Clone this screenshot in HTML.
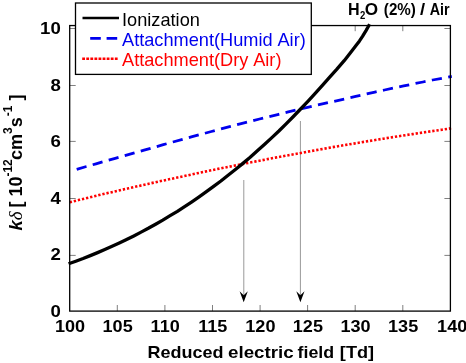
<!DOCTYPE html>
<html><head><meta charset="utf-8"><title>plot</title>
<style>
html,body{margin:0;padding:0;background:#fff;}
svg{display:block;}
text{font-family:"Liberation Sans",Arial,sans-serif;}
.b{font-weight:bold;font-size:17.4px;fill:#000;}
.lg{font-size:18.2px;word-spacing:0.8px;}
</style></head><body>
<svg width="466" height="363" viewBox="0 0 466 363">
<rect width="466" height="363" fill="#fff"/>
<g stroke="#606060" stroke-width="0.8" fill="none"><line x1="117.3" y1="311.1" x2="117.3" y2="305"/><line x1="117.3" y1="25.7" x2="117.3" y2="31.2"/><line x1="164.9" y1="311.1" x2="164.9" y2="305"/><line x1="164.9" y1="25.7" x2="164.9" y2="31.2"/><line x1="212.5" y1="311.1" x2="212.5" y2="305"/><line x1="212.5" y1="25.7" x2="212.5" y2="31.2"/><line x1="260.1" y1="311.1" x2="260.1" y2="305"/><line x1="260.1" y1="25.7" x2="260.1" y2="31.2"/><line x1="307.6" y1="311.1" x2="307.6" y2="305"/><line x1="307.6" y1="25.7" x2="307.6" y2="31.2"/><line x1="355.2" y1="311.1" x2="355.2" y2="305"/><line x1="355.2" y1="25.7" x2="355.2" y2="31.2"/><line x1="402.8" y1="311.1" x2="402.8" y2="305"/><line x1="402.8" y1="25.7" x2="402.8" y2="31.2"/><line x1="69.7" y1="255.4" x2="75.7" y2="255.4"/><line x1="450.4" y1="255.4" x2="444.4" y2="255.4"/><line x1="69.7" y1="198.5" x2="75.7" y2="198.5"/><line x1="450.4" y1="198.5" x2="444.4" y2="198.5"/><line x1="69.7" y1="141.4" x2="75.7" y2="141.4"/><line x1="450.4" y1="141.4" x2="444.4" y2="141.4"/><line x1="69.7" y1="85.5" x2="75.7" y2="85.5"/><line x1="450.4" y1="85.5" x2="444.4" y2="85.5"/><line x1="69.7" y1="28.5" x2="75.7" y2="28.5"/><line x1="450.4" y1="28.5" x2="444.4" y2="28.5"/></g>
<g stroke="#999" stroke-width="1"><line x1="243.8" y1="180" x2="243.8" y2="296"/><line x1="300.4" y1="121" x2="300.4" y2="296"/></g>
<g fill="#000"><path d="M243.7 302.3 L239.6 291.3 L243.7 295.3 L247.8 291.3 Z"/><path d="M300.4 302.3 L296.3 291.3 L300.4 295.3 L304.5 291.3 Z"/></g>
<polyline points="69.7,202.2 79.5,199.8 89.3,197.5 99.1,195.1 108.9,192.8 118.7,190.6 128.5,188.3 138.3,186.1 148.1,183.9 157.9,181.7 167.7,179.6 177.5,177.5 187.3,175.4 197.1,173.3 206.9,171.2 216.7,169.2 226.5,167.2 236.3,165.3 246.1,163.3 255.9,161.4 265.7,159.5 275.5,157.6 285.3,155.8 295.1,154.0 304.9,152.2 314.7,150.4 324.5,148.6 334.2,146.9 344.0,145.2 353.8,143.6 363.6,141.9 373.4,140.3 383.2,138.7 393.0,137.1 402.8,135.6 412.6,134.1 422.4,132.6 432.2,131.1 442.0,129.7 451.8,128.2" fill="none" stroke="#ff0000" stroke-width="2.6" stroke-dasharray="2.3 1.9"/>
<polyline points="76.7,169.3 86.4,166.5 96.0,163.8 105.6,161.0 115.2,158.3 124.8,155.6 134.4,152.9 144.1,150.1 153.7,147.4 163.3,144.7 172.9,142.0 182.5,139.4 192.2,136.7 201.8,134.1 211.4,131.5 221.0,128.9 230.6,126.3 240.2,123.9 249.9,121.5 259.5,119.0 269.1,116.6 278.7,114.3 288.3,111.9 297.9,109.6 307.6,107.4 317.2,105.1 326.8,102.9 336.4,100.8 346.0,98.6 355.7,96.4 365.3,94.3 374.9,92.1 384.5,90.0 394.1,87.9 403.7,85.9 413.4,83.9 423.0,82.0 432.6,80.0 442.2,78.2 451.8,76.4" fill="none" stroke="#0000ee" stroke-width="2.8" stroke-dasharray="10.2 6.45"/>
<polyline points="68.6,263.8 75.8,261.2 83.1,258.5 90.3,255.6 97.6,252.6 104.8,249.5 112.1,246.3 119.3,243.0 126.6,239.5 133.8,235.9 141.1,232.1 148.3,228.3 155.6,224.2 162.8,220.1 170.1,215.7 177.4,211.3 184.6,206.6 191.9,201.8 199.1,196.9 206.4,191.7 213.6,186.4 220.9,181.0 228.1,175.3 235.4,169.5 242.6,163.6 249.9,157.5 257.1,151.1 264.4,144.6 271.6,137.9 278.9,131.0 286.1,123.8 293.4,116.5 300.6,109.0 307.9,101.3 315.2,93.4 322.4,85.3 329.7,77.2 336.9,69.2 344.2,60.7 351.4,51.5 356.0,45.5 359.5,40.9 362.5,36.4 366.0,30.6 369.6,24.2" fill="none" stroke="#000" stroke-width="3.3" stroke-linejoin="round"/>
<rect x="69.7" y="25.55" width="380.7" height="285.55" fill="none" stroke="#000" stroke-width="1.3"/>
<rect x="75.5" y="3" width="235.8" height="71.4" fill="#fff" stroke="#000" stroke-width="1.3"/>
<line x1="82.5" y1="18" x2="119" y2="18" stroke="#000" stroke-width="2.6"/>
<line x1="90.2" y1="38.4" x2="119" y2="38.4" stroke="#0000ee" stroke-width="2.6" stroke-dasharray="10.6 5.8"/>
<line x1="82.2" y1="58.8" x2="118.8" y2="58.8" stroke="#ff0000" stroke-width="2.6" stroke-dasharray="2.8 1.28"/>
<text class="lg" x="122" y="25.6" fill="#000">Ionization</text>
<text class="lg" x="122" y="45.9" fill="#0000ee">Attachment(Humid Air)</text>
<text class="lg" x="122" y="65.8" fill="#ff0000">Attachment(Dry Air)</text>
<text transform="translate(348.04 14.7) scale(1.0053 1)" font-size="16px" font-weight="bold" fill="#000">H</text><text transform="translate(359.96 19.0) scale(0.8519 1)" font-size="11.2px" font-weight="bold" fill="#000">2</text><text transform="translate(364.70 14.7) scale(1.0721 1)" font-size="16px" font-weight="bold" fill="#000">O</text><text transform="translate(383.84 14.7) scale(0.9472 1)" font-size="16px" font-weight="bold" fill="#000">(2%)</text><text transform="translate(420.03 14.7) scale(1.1566 1)" font-size="16px" font-weight="bold" fill="#000">/</text><text transform="translate(429.74 14.7) scale(0.8935 1)" font-size="16px" font-weight="bold" fill="#000">Air</text>
<g class="b"><text transform="translate(70.0 332.2) scale(1.04 1)" text-anchor="middle">100</text><text transform="translate(117.6 332.2) scale(1.04 1)" text-anchor="middle">105</text><text transform="translate(165.2 332.2) scale(1.04 1)" text-anchor="middle">110</text><text transform="translate(212.8 332.2) scale(1.04 1)" text-anchor="middle">115</text><text transform="translate(260.4 332.2) scale(1.04 1)" text-anchor="middle">120</text><text transform="translate(307.9 332.2) scale(1.04 1)" text-anchor="middle">125</text><text transform="translate(355.5 332.2) scale(1.04 1)" text-anchor="middle">130</text><text transform="translate(403.1 332.2) scale(1.04 1)" text-anchor="middle">135</text><text transform="translate(452.2 332.2) scale(1.04 1)" text-anchor="middle">140</text><text transform="translate(60.8 316.6) scale(1.07 1)" text-anchor="end">0</text><text transform="translate(60.8 260.1) scale(1.07 1)" text-anchor="end">2</text><text transform="translate(60.8 203.6) scale(1.07 1)" text-anchor="end">4</text><text transform="translate(60.8 147.1) scale(1.07 1)" text-anchor="end">6</text><text transform="translate(60.8 90.6) scale(1.07 1)" text-anchor="end">8</text><text transform="translate(60.8 34.1) scale(1.07 1)" text-anchor="end">10</text>
<text transform="translate(147.51 358.4) scale(1.0351 1)" font-size="17.4px" >Reduced</text><text transform="translate(228.05 358.4) scale(1.0771 1)" font-size="17.4px" >electric</text><text transform="translate(297.49 358.4) scale(1.0247 1)" font-size="17.4px" >field</text><text transform="translate(339.86 358.4) scale(1.0438 1)" font-size="17.4px" >[Td]</text>
<text transform="translate(21.5 230.6) rotate(-90)" font-size="18px"><tspan font-style="italic" font-size="18.6px">k</tspan><tspan font-family="'Liberation Serif','DejaVu Serif',serif" font-style="italic" font-weight="normal" font-size="19px">δ</tspan><tspan dx="3.8">[ 10</tspan><tspan font-size="12px" dy="-9.4">-12</tspan><tspan dy="9.4" dx="-0.7">cm</tspan><tspan font-size="12px" dy="-9.4">3</tspan><tspan dy="9.4">s</tspan><tspan font-size="12px" dy="-9.4" dx="1">-1</tspan><tspan dy="9.4" dx="0"> ]</tspan></text>
</g>
</svg>
</body></html>
